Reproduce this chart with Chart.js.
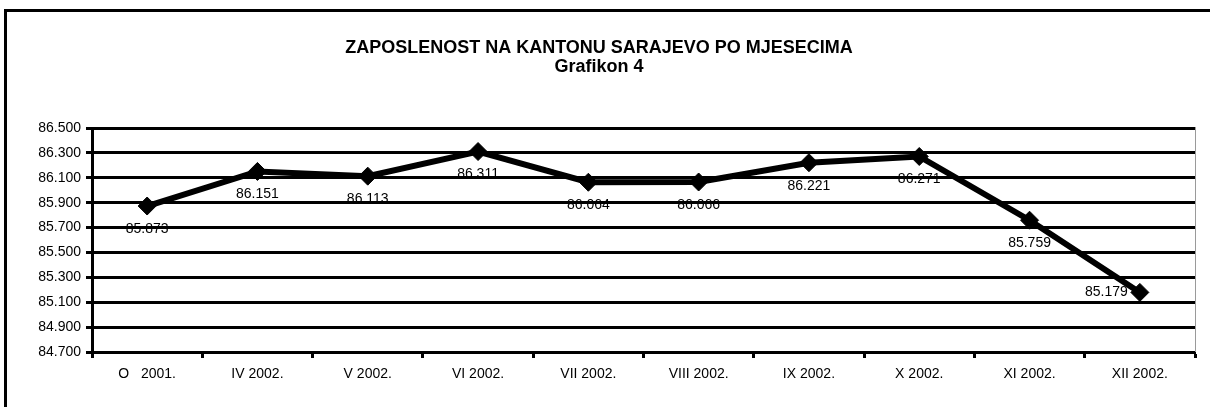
<!DOCTYPE html>
<html>
<head>
<meta charset="utf-8">
<script src="https://cdn.jsdelivr.net/npm/chart.js@4.4.1/dist/chart.umd.min.js"></script>
<style>
  html, body { margin: 0; padding: 0; background: #fff; width: 1210px; height: 407px; overflow: hidden; }
  #frame { position: absolute; left: 4px; top: 9px; width: 1300px; height: 500px; border: 3px solid #000; box-sizing: border-box; }
  #c { position: absolute; left: 0; top: 0; }
</style>
</head>
<body>
<div id="frame"></div>
<canvas id="c" width="1210" height="407"></canvas>
<script>
const titleLines = ['ZAPOSLENOST NA KANTONU SARAJEVO PO MJESECIMA', 'Grafikon 4'];
const categories = ['O   2001.', 'IV 2002.', 'V 2002.', 'VI 2002.', 'VII 2002.', 'VIII 2002.', 'IX 2002.', 'X 2002.', 'XI 2002.', 'XII 2002.'];
const employed = [85873, 86151, 86113, 86311, 86064, 86066, 86221, 86271, 85759, 85179];
const yMin = 84700;
const yMax = 86500;
const yStep = 200;

function fmt(n) {
  const th = Math.floor(n / 1000);
  const rest = String(Math.round(n % 1000)).padStart(3, '0');
  return th + '.' + rest;
}

const FONT = "'Liberation Sans', Arial, sans-serif";

const pointLabels = {
  id: 'pointLabels',
  beforeDraw(chart) {
    const ctx = chart.ctx;
    const meta = chart.getDatasetMeta(0);
    const data = chart.data.datasets[0].data;
    ctx.save();
    ctx.font = '14px ' + FONT;
    ctx.fillStyle = '#000';
    ctx.textBaseline = 'middle';
    meta.data.forEach((pt, i) => {
      const txt = fmt(data[i]);
      if (i === data.length - 1) {
        ctx.textAlign = 'right';
        ctx.fillText(txt, pt.x - 12, pt.y);
      } else {
        ctx.textAlign = 'center';
        ctx.fillText(txt, pt.x, pt.y + 23);
      }
    });
    ctx.restore();
  },
  afterDraw(chart) {
    const ctx = chart.ctx;
    const a = chart.chartArea;
    ctx.save();
    ctx.strokeStyle = '#9a9a9a';
    ctx.lineWidth = 1;
    ctx.beginPath();
    ctx.moveTo(Math.round(a.right) + 0.5, a.top - 1);
    ctx.lineTo(Math.round(a.right) + 0.5, a.bottom);
    ctx.stroke();
    ctx.restore();
  }
};

new Chart(document.getElementById('c'), {
  type: 'line',
  data: {
    labels: categories,
    datasets: [{
      data: employed,
      borderColor: '#000',
      backgroundColor: '#000',
      borderWidth: 6,
      pointStyle: 'rectRot',
      pointRadius: 9,
      pointBorderWidth: 1,
      pointBackgroundColor: '#000',
      pointBorderColor: '#000',
      tension: 0,
      fill: false
    }]
  },
  options: {
    responsive: false,
    animation: false,
    devicePixelRatio: 1,
    layout: { padding: { left: 3, right: 15, top: 0, bottom: 0 } },
    plugins: {
      legend: { display: false },
      tooltip: { enabled: false },
      title: {
        display: true,
        text: titleLines,
        color: '#000',
        font: { family: FONT, size: 18, weight: 'bold', lineHeight: '19px' },
        padding: { top: 39, bottom: 51 }
      }
    },
    scales: {
      x: {
        type: 'category',
        offset: true,
        afterFit(scale) { scale.height = 55; },
        grid: {
          offset: true,
          drawOnChartArea: false,
          drawTicks: true,
          tickLength: 6,
          tickWidth: 3,
          tickColor: '#000'
        },
        border: { display: true, color: '#000', width: 3 },
        ticks: {
          color: '#000',
          font: { family: FONT, size: 14 },
          padding: 8,
          maxRotation: 0,
          autoSkip: false
        }
      },
      y: {
        min: yMin,
        max: yMax,
        afterFit(scale) { scale.width = 89; },
        afterBuildTicks(scale) {
          const t = [];
          for (let v = yMin; v <= yMax; v += yStep) t.push({ value: v });
          scale.ticks = t;
        },
        grid: {
          color: '#000',
          lineWidth: 3,
          drawTicks: true,
          tickLength: 6,
          tickColor: '#000',
          tickWidth: 3
        },
        border: { display: true, color: '#000', width: 3 },
        ticks: {
          color: '#000',
          font: { family: FONT, size: 14 },
          padding: 5,
          callback: (v) => fmt(v)
        }
      }
    }
  },
  plugins: [pointLabels]
});
</script>
</body>
</html>
